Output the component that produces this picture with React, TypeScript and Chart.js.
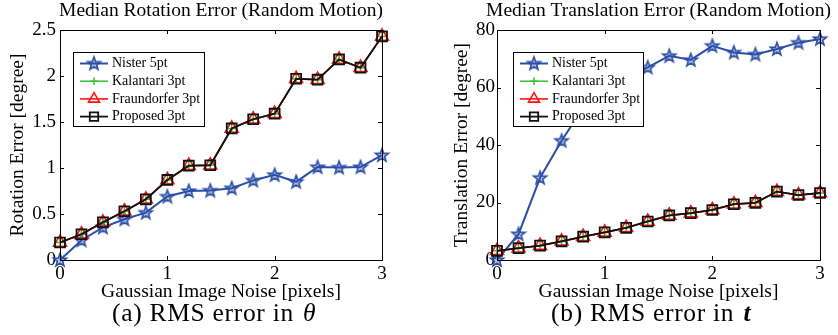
import React, { useEffect, useRef } from 'react';
import { Chart, registerables } from 'chart.js';
import { drawPoint } from 'chart.js/helpers';

Chart.register(...registerables);

const SERIF = '"Liberation Serif", "Times New Roman", serif';

// ---------- data ----------
const noiseLevels = [0, 0.2, 0.4, 0.6, 0.8, 1.0, 1.2, 1.4, 1.6, 1.8, 2.0, 2.2, 2.4, 2.6, 2.8, 3.0];
const xTickValues = [0, 1, 2, 3];
const xTickLabels = ['0', '1', '2', '3'];
const rotTickValues = [0, 0.5, 1, 1.5, 2, 2.5];
const rotTickLabels = ['0', '0.5', '1', '1.5', '2', '2.5'];
const transTickValues = [0, 20, 40, 60, 80];
const transTickLabels = ['0', '20', '40', '60', '80'];
const seriesNames = ['Nister 5pt', 'Kalantari 3pt', 'Fraundorfer 3pt', 'Proposed 3pt'];

const rotNister = [0.0, 0.215, 0.355, 0.443, 0.515, 0.69, 0.75, 0.755, 0.78, 0.865, 0.925, 0.85, 1.01, 1.005, 1.01, 1.14];
const rotKalantari = [0.19, 0.28, 0.41, 0.53, 0.66, 0.87, 1.025, 1.03, 1.43, 1.53, 1.59, 1.97, 1.96, 2.18, 2.09, 2.43];
const rotFraundorfer = [0.19, 0.28, 0.41, 0.53, 0.66, 0.87, 1.025, 1.03, 1.43, 1.53, 1.59, 1.97, 1.96, 2.18, 2.09, 2.43];
const rotProposed = [0.19, 0.28, 0.41, 0.53, 0.66, 0.87, 1.025, 1.03, 1.43, 1.53, 1.59, 1.97, 1.96, 2.18, 2.09, 2.43];

const transNister = [0.0, 9.0, 28.6, 41.5, 53.0, 60.0, 64.0, 67.0, 71.0, 69.6, 74.5, 72.2, 71.5, 73.4, 75.6, 76.9];
const transKalantari = [3.2, 4.1, 5.0, 6.5, 8.1, 9.6, 11.2, 13.4, 15.5, 16.3, 17.4, 19.4, 19.9, 23.8, 22.6, 23.3];
const transFraundorfer = [3.2, 4.1, 5.0, 6.5, 8.1, 9.6, 11.2, 13.4, 15.5, 16.3, 17.4, 19.4, 19.9, 23.8, 22.6, 23.3];
const transProposed = [3.2, 4.1, 5.0, 6.5, 8.1, 9.6, 11.2, 13.4, 15.5, 16.3, 17.4, 19.4, 19.9, 23.8, 22.6, 23.3];

// ---------- styles ----------
const BLUE = '#2b4ea8';
const GREEN = '#33c233';
const RED = '#ff1414';
const BLACK = '#111111';

function makeStar(): HTMLCanvasElement {
  const c = document.createElement('canvas');
  c.width = 18;
  c.height = 18;
  const g = c.getContext('2d') as CanvasRenderingContext2D;
  g.beginPath();
  for (let i = 0; i < 10; i++) {
    const r = i % 2 === 0 ? 6.8 : 2.8;
    const a = -Math.PI / 2 + (i * Math.PI) / 5;
    const px = 9 + r * Math.cos(a);
    const py = 9.4 + r * Math.sin(a);
    if (i === 0) g.moveTo(px, py);
    else g.lineTo(px, py);
  }
  g.closePath();
  g.fillStyle = 'rgba(43,78,168,0.35)';
  g.fill();
  g.strokeStyle = BLUE;
  g.lineWidth = 1.6;
  g.stroke();
  return c;
}

function buildDatasets(series: number[][], star: HTMLCanvasElement) {
  const styles: any[] = [
    { color: BLUE, pointStyle: star, radius: 7, width: 2, order: 4 },
    { color: GREEN, pointStyle: 'cross', radius: 4.5, width: 1.5, order: 3 },
    { color: RED, pointStyle: 'triangle', radius: 7.5, width: 1.6, order: 2 },
    { color: BLACK, pointStyle: 'rect', radius: 7, width: 1.8, order: 1 },
  ];
  return series.map((vals, i) => ({
    label: seriesNames[i],
    data: noiseLevels.map((x, j) => ({ x, y: vals[j] })),
    borderColor: styles[i].color,
    backgroundColor: 'rgba(0,0,0,0)',
    borderWidth: styles[i].width,
    pointStyle: styles[i].pointStyle,
    pointRadius: styles[i].radius,
    pointBorderColor: styles[i].color,
    pointBackgroundColor: 'rgba(0,0,0,0)',
    pointBorderWidth: styles[i].width,
    order: styles[i].order,
    clip: false,
    tension: 0,
  }));
}

// ---------- MATLAB-like frame, legend, title and caption ----------
const matlabPlugin = {
  id: 'matlab',
  afterDatasetsDraw(chart: any) {
    const { ctx, chartArea } = chart;
    const { left, right, top, bottom } = chartArea;
    const xs = chart.scales.x;
    const ys = chart.scales.y;
    ctx.save();
    ctx.strokeStyle = '#000';
    ctx.lineWidth = 1;
    ctx.strokeRect(left + 0.5, top + 0.5, right - left, bottom - top);
    ctx.beginPath();
    xs.ticks.forEach((t: any) => {
      const px = Math.round(xs.getPixelForValue(t.value)) + 0.5;
      ctx.moveTo(px, bottom);
      ctx.lineTo(px, bottom - 4);
      ctx.moveTo(px, top);
      ctx.lineTo(px, top + 4);
    });
    ys.ticks.forEach((t: any) => {
      const py = Math.round(ys.getPixelForValue(t.value)) + 0.5;
      ctx.moveTo(left, py);
      ctx.lineTo(left + 4, py);
      ctx.moveTo(right, py);
      ctx.lineTo(right - 4, py);
    });
    ctx.stroke();
    ctx.restore();
  },
  afterDraw(chart: any, _args: any, opts: any) {
    const { ctx, chartArea } = chart;
    ctx.save();
    // title
    ctx.fillStyle = '#000';
    ctx.font = `19.5px ${SERIF}`;
    ctx.textAlign = 'center';
    ctx.textBaseline = 'alphabetic';
    ctx.fillText(opts.title, (chartArea.left + chartArea.right) / 2, 16);

    // legend
    const bx = chartArea.left + opts.legendDX;
    const by = chartArea.top + opts.legendDY;
    ctx.fillStyle = '#fff';
    ctx.fillRect(bx, by, opts.legendW, opts.legendH);
    ctx.strokeStyle = '#000';
    ctx.lineWidth = 1;
    ctx.strokeRect(bx + 0.5, by + 0.5, opts.legendW, opts.legendH);
    ctx.font = `14px ${SERIF}`;
    ctx.textAlign = 'left';
    ctx.textBaseline = 'middle';
    chart.data.datasets.forEach((ds: any, i: number) => {
      const cy = by + 11.5 + i * 17.7;
      ctx.strokeStyle = ds.borderColor;
      ctx.lineWidth = ds.borderWidth;
      ctx.beginPath();
      ctx.moveTo(bx + 7, cy);
      ctx.lineTo(bx + 35, cy);
      ctx.stroke();
      if (ds.pointStyle instanceof HTMLCanvasElement) {
        const img = ds.pointStyle as HTMLCanvasElement;
        ctx.drawImage(img, bx + 21 - img.width / 2, cy - img.height / 2);
      } else {
        ctx.fillStyle = 'rgba(0,0,0,0)';
        ctx.strokeStyle = ds.pointBorderColor;
        ctx.lineWidth = ds.pointBorderWidth;
        drawPoint(ctx, { pointStyle: ds.pointStyle, rotation: 0, radius: ds.pointRadius * 0.85, borderWidth: ds.pointBorderWidth } as any, bx + 21, cy);
      }
      ctx.fillStyle = '#000';
      ctx.fillText(ds.label, bx + 39, cy);
    });

    // caption
    ctx.fillStyle = '#000';
    ctx.textAlign = 'left';
    ctx.textBaseline = 'alphabetic';
    (ctx as any).letterSpacing = '0.7px';
    ctx.font = `25.5px ${SERIF}`;
    ctx.fillText(opts.caption, opts.captionX, 321);
    const w = ctx.measureText(opts.caption).width;
    ctx.font = `${opts.captionMathFont} 25.5px ${SERIF}`;
    ctx.fillText(opts.captionMath, opts.captionX + w + 2, 321);
    ctx.restore();
  },
};

function makeConfig(cfg: any): any {
  return {
    type: 'line',
    data: { datasets: cfg.datasets },
    plugins: [matlabPlugin],
    options: {
      responsive: false,
      animation: false,
      devicePixelRatio: 1,
      events: [],
      layout: { padding: { left: 0, right: cfg.padRight, top: 30, bottom: 30 } },
      plugins: {
        legend: { display: false },
        tooltip: { enabled: false },
        title: { display: false },
        matlab: cfg.matlab,
      },
      scales: {
        x: {
          type: 'linear',
          min: 0,
          max: 3,
          afterBuildTicks: (s: any) => {
            s.ticks = xTickValues.map((v) => ({ value: v }));
          },
          afterFit: (s: any) => {
            s.height = 45;
          },
          grid: { display: false, drawTicks: false },
          border: { display: false },
          ticks: {
            font: { family: SERIF, size: 19 },
            color: '#000',
            padding: 3,
            maxRotation: 0,
            autoSkip: false,
            callback: (_v: any, i: number) => xTickLabels[i],
          },
          title: {
            display: true,
            text: 'Gaussian Image Noise [pixels]',
            font: { family: SERIF, size: 19.5 },
            color: '#000',
            padding: { top: 0, bottom: 1 },
          },
        },
        y: {
          type: 'linear',
          min: cfg.yMin,
          max: cfg.yMax,
          afterBuildTicks: (s: any) => {
            s.ticks = cfg.yTickValues.map((v: number) => ({ value: v }));
          },
          afterFit: (s: any) => {
            s.width = cfg.yWidth;
          },
          grid: { display: false, drawTicks: false },
          border: { display: false },
          ticks: {
            font: { family: SERIF, size: 19 },
            color: '#000',
            padding: cfg.yTickPad,
            autoSkip: false,
            callback: (_v: any, i: number) => cfg.yTickLabels[i],
          },
          title: {
            display: true,
            text: cfg.yTitle,
            font: { family: SERIF, size: 19.5 },
            color: '#000',
            padding: { top: cfg.yTitlePad, bottom: 0 },
          },
        },
      },
    },
  };
}

export default function App() {
  const leftRef = useRef<HTMLCanvasElement | null>(null);
  const rightRef = useRef<HTMLCanvasElement | null>(null);

  useEffect(() => {
    const star = makeStar();
    const left = new Chart(
      leftRef.current as HTMLCanvasElement,
      makeConfig({
        datasets: buildDatasets([rotNister, rotKalantari, rotFraundorfer, rotProposed], star),
        padRight: 37,
        yMin: 0,
        yMax: 2.5,
        yTickValues: rotTickValues,
        yTickLabels: rotTickLabels,
        yWidth: 60,
        yTickPad: 4,
        yTitle: 'Rotation Error [degree]',
        yTitlePad: 6,
        matlab: {
          title: 'Median Rotation Error (Random Motion)',
          legendDX: 13,
          legendDY: 22,
          legendW: 131,
          legendH: 74,
          caption: '(a) RMS error in ',
          captionMath: 'θ',
          captionMathFont: 'italic',
          captionX: 112,
        },
      })
    );
    const right = new Chart(
      rightRef.current as HTMLCanvasElement,
      makeConfig({
        datasets: buildDatasets([transNister, transKalantari, transFraundorfer, transProposed], star),
        padRight: 18,
        yMin: 0,
        yMax: 80,
        yTickValues: transTickValues,
        yTickLabels: transTickLabels,
        yWidth: 78,
        yTickPad: 2,
        yTitle: 'Translation Error [degree]',
        yTitlePad: 31,
        matlab: {
          title: 'Median Translation Error (Random Motion)',
          legendDX: 16,
          legendDY: 22,
          legendW: 130,
          legendH: 74,
          caption: '(b) RMS error in ',
          captionMath: 't',
          captionMathFont: 'italic bold',
          captionX: 132,
        },
      })
    );
    return () => {
      left.destroy();
      right.destroy();
    };
  }, []);

  return (
    <div style={{ position: 'absolute', left: 0, top: 0, width: 838, height: 335, background: '#fff' }}>
      <canvas ref={leftRef} width={419} height={335} style={{ position: 'absolute', left: 0, top: 0, width: 419, height: 335 }} />
      <canvas ref={rightRef} width={419} height={335} style={{ position: 'absolute', left: 419, top: 0, width: 419, height: 335 }} />
    </div>
  );
}
